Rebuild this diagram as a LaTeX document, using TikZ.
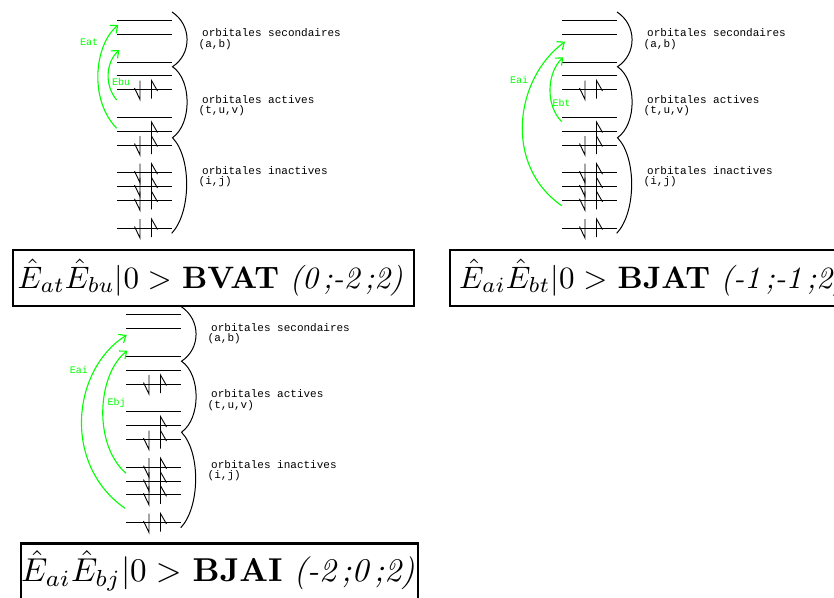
\documentclass[tikz,border=0pt]{standalone}
\usepackage{fontspec}
\setmonofont{Liberation Mono}
\usetikzlibrary{arrows.meta}
\definecolor{egreen}{RGB}{0,255,0}
\tikzset{
  levelline/.style={line width=1pt},
  electron/.style={line width=0.9pt},
  bracket/.style={line width=1pt},
  orbtext/.style={font=\ttfamily\fontsize{11}{11}\selectfont, anchor=base west, inner sep=0pt},
  exlabel/.style={font=\ttfamily\fontsize{10}{10}\selectfont, text=egreen, inner sep=0pt},
  excite/.style={draw=egreen, line width=1.1pt, -{Straight Barb[length=6pt,width=10pt]}},
  frame/.style={draw, line width=2.4pt, anchor=north west, inner sep=0pt},
  formula/.style={anchor=base west, inner sep=0pt, font=\fontsize{10}{12}\selectfont},
}
\newcommand\spindown[2]{\draw[electron] (#1,#2-9) -- (#1,#2+10) -- (#1-5.5,#2-1.5);}
\newcommand\spinup[2]{\draw[electron] (#1,#2+9) -- (#1,#2-9) -- (#1+6,#2+1.5);}
\newcommand\orbbase[1]{%
  \foreach \yy/\nn in {20/1,34/2,62/3,75.8/4,89.5/5,117.2/6,131/7,145/8,172.7/9,186.5/10,200.3/11,228/12}
    {\draw[levelline] (117,\yy) coordinate (#1-l\nn) -- (172,\yy);}
  \draw[bracket] (172,12) .. controls (192,25) and (192,54) .. (172.5,66.7)
     .. controls (192,80) and (192,124) .. (172.5,137.7)
     .. controls (192,158) and (191,213) .. (171.7,233.3);
  \foreach \yy in {89.5,145,172.7,186.5,200.3,228} {\spindown{140}{\yy}\spinup{151.5}{\yy}}
  \spinup{151.5}{131}
  \node[orbtext] (#1-sec) at (202,36.7) {orbitales secondaires};
  \node[orbtext] (#1-secl) at (198.5,47) {(a,b)};
  \node[orbtext] (#1-act) at (202,103.3) {orbitales actives};
  \node[orbtext] (#1-actl) at (198.5,113.5) {(t,u,v)};
  \node[orbtext] (#1-ina) at (202,174) {orbitales inactives};
  \node[orbtext] (#1-inal) at (198.5,184) {(i,j)};
}
\begin{document}
\begin{tikzpicture}[x=1pt,y=-1pt]
\useasboundingbox (0,0) rectangle (834,597);
\clip (0,0) rectangle (834,597);
% diagram 1
\begin{scope}
  \orbbase{A}
  \coordinate (A-s1) at (116.7,128.3);
  \coordinate (A-t1) at (118.3,25);
  \coordinate (A-s2) at (116.7,100);
  \coordinate (A-t2) at (119.3,50);
  \draw[excite] (A-s1) .. controls (89,100) and (94,45) .. (A-t1);
  \draw[excite] (A-s2) .. controls (104,85) and (106,62) .. (A-t2);
  \node[exlabel] (A-lab1) at (89,42) {Eat};
  \node[exlabel] (A-lab2) at (121,82) {Ebu};
\end{scope}
% diagram 2
\begin{scope}[shift={(445,0)}]
  \orbbase{B}
  \coordinate (B-s1) at (116.7,205.7);
  \coordinate (B-t1) at (120,41.7);
  \coordinate (B-s2) at (116.7,121.7);
  \coordinate (B-t2) at (118.3,57.3);
  \draw[excite] (B-s1) .. controls (58,165) and (70,78) .. (B-t1);
  \draw[excite] (B-s2) .. controls (100,105) and (102,72) .. (B-t2);
  \node[exlabel] (B-lab1) at (74,80) {Eai};
  \node[exlabel] (B-lab2) at (116.7,102.7) {Ebt};
\end{scope}
% diagram 3
\begin{scope}[shift={(9,294.5)}]
  \orbbase{C}
  \coordinate (C-s1) at (116,213.8);
  \coordinate (C-t1) at (117.7,40.5);
  \coordinate (C-s2) at (117,178.8);
  \coordinate (C-t2) at (118.3,56.2);
  \draw[excite] (C-s1) .. controls (53,170) and (63,75) .. (C-t1);
  \draw[excite] (C-s2) .. controls (84,150) and (88,80) .. (C-t2);
  \node[exlabel] (C-lab1) at (70,75.5) {Eai};
  \node[exlabel] (C-lab2) at (107.7,108.5) {Ebj};
\end{scope}
% formula boxes
\node[frame, minimum width=401pt, minimum height=56pt] (box1) at (12,249) {};
\node[formula] (f1) at (17.5,288) {\scalebox{3.10}{$\hat{E}_{at}\hat{E}_{bu}|0>$ \textbf{BVAT} \textit{(0\,;-2\,;2)}}};
\node[frame, minimum width=400pt, minimum height=56pt] (box2) at (449,249) {};
\node[formula] (f2) at (459,288) {\scalebox{3.10}{$\hat{E}_{ai}\hat{E}_{bt}|0>$ \textbf{BJAT} \textit{(-1\,;-1\,;2)}}};
\node[frame, minimum width=397pt, minimum height=70pt] (box3) at (20,542.3) {};
\node[formula] (f3) at (21,581.7) {\scalebox{3.31}{$\hat{E}_{ai}\hat{E}_{bj}|0>$ \textbf{BJAI} \textit{(-2\,;0\,;2)}}};
\end{tikzpicture}
\end{document}
